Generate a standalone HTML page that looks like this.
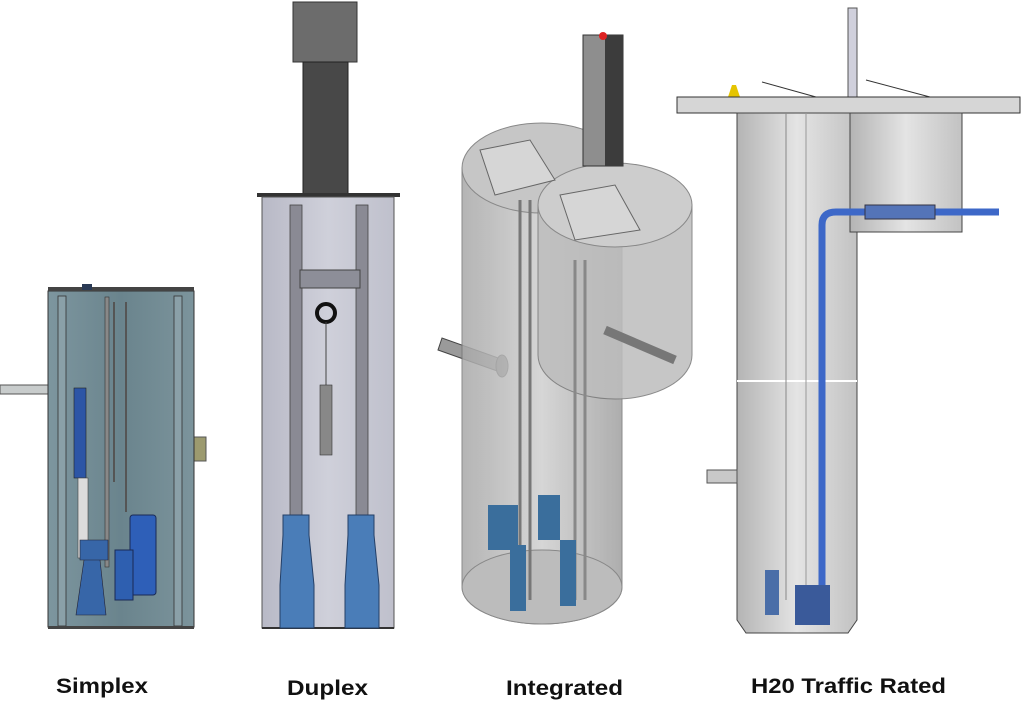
<!DOCTYPE html>
<html><head><meta charset="utf-8"><style>
html,body{margin:0;padding:0;background:#fff;}
svg{display:block}
text{font-family:"Liberation Sans",sans-serif;font-weight:bold;font-size:21px;fill:#111}
</style></head><body>
<svg width="1024" height="702" viewBox="0 0 1024 702" xmlns="http://www.w3.org/2000/svg">
<defs>
<linearGradient id="gs" x1="0" x2="1"><stop offset="0" stop-color="#7d969f"/><stop offset="0.5" stop-color="#6a848d"/><stop offset="1" stop-color="#7c949c"/></linearGradient>
<linearGradient id="gd" x1="0" x2="1"><stop offset="0" stop-color="#b8b9c6"/><stop offset="0.5" stop-color="#cfd0da"/><stop offset="1" stop-color="#bfc0cc"/></linearGradient>
<linearGradient id="gh" x1="0" x2="1"><stop offset="0" stop-color="#b4b4b4"/><stop offset="0.5" stop-color="#e4e4e4"/><stop offset="1" stop-color="#c2c2c2"/></linearGradient>
<linearGradient id="gi" x1="0" x2="1"><stop offset="0" stop-color="#a8a8a8"/><stop offset="0.5" stop-color="#cfcfcf"/><stop offset="1" stop-color="#a0a0a0"/></linearGradient>
</defs>

<!-- SIMPLEX -->
<rect x="0" y="385" width="56" height="9" fill="#c8cccc" stroke="#555" stroke-width="1"/>
<rect x="54" y="380" width="5" height="19" fill="#333"/>
<rect x="182" y="437" width="24" height="24" fill="#9c9a6f" stroke="#555"/>
<rect x="48" y="291" width="146" height="336" fill="url(#gs)" stroke="#333"/>
<rect x="58" y="296" width="8" height="330" fill="#8aa0a8" stroke="#333" stroke-width="0.8"/>
<rect x="174" y="296" width="8" height="330" fill="#8aa0a8" stroke="#333" stroke-width="0.8"/>
<rect x="48" y="287" width="146" height="4" fill="#444"/>
<rect x="48" y="626" width="146" height="3" fill="#444"/>
<rect x="82" y="284" width="10" height="6" fill="#2a3a55"/>
<rect x="105" y="297" width="4" height="270" fill="#888" stroke="#333" stroke-width="0.6"/>
<rect x="113" y="302" width="2" height="180" fill="#555"/>
<rect x="125" y="302" width="2" height="210" fill="#555"/>
<rect x="74" y="388" width="12" height="90" fill="#2c55a6" stroke="#222" stroke-width="0.6"/>
<rect x="78" y="478" width="10" height="80" fill="#dcdcdc" stroke="#444" stroke-width="0.6"/>
<path d="M80 540 h28 v20 h-28z M84 560 l-8 55 h30 l-6 -55z" fill="#3766a8" stroke="#223" stroke-width="0.6"/>
<rect x="130" y="515" width="26" height="80" rx="3" fill="#2e5fb8" stroke="#1a2a55"/>
<rect x="115" y="550" width="18" height="50" fill="#2e5fb0" stroke="#1a2a55"/>

<!-- DUPLEX -->
<rect x="293" y="2" width="64" height="60" fill="#6c6c6c" stroke="#333"/>
<rect x="303" y="62" width="45" height="133" fill="#484848" stroke="#222"/>
<rect x="257" y="193" width="143" height="4" fill="#333"/>
<rect x="262" y="197" width="132" height="431" fill="url(#gd)" stroke="#555"/>
<rect x="262" y="627" width="132" height="2" fill="#333"/>
<rect x="290" y="205" width="12" height="310" fill="#8a8a94" stroke="#444" stroke-width="0.8"/>
<rect x="356" y="205" width="12" height="310" fill="#8a8a94" stroke="#444" stroke-width="0.8"/>
<rect x="300" y="270" width="60" height="18" fill="#8d8e98" stroke="#444"/>
<circle cx="326" cy="313" r="9" fill="none" stroke="#111" stroke-width="4"/>
<line x1="326" y1="322" x2="326" y2="450" stroke="#444"/>
<rect x="320" y="385" width="12" height="70" fill="#888" stroke="#333" stroke-width="0.6"/>
<path d="M283 515 h26 v20 l5 50 v43 h-34 v-43 l3 -50z" fill="#4a7db8" stroke="#243f66"/>
<path d="M348 515 h26 v20 l5 50 v43 h-34 v-43 l3 -50z" fill="#4a7db8" stroke="#243f66"/>

<!-- INTEGRATED -->
<path d="M438 350 L500 372 L504 360 L442 338z" fill="#9a9a9a" stroke="#444"/>
<ellipse cx="502" cy="366" rx="6" ry="11" fill="#777" stroke="#333"/>
<path d="M462 168 V587 A80 37 0 0 0 622 587 V168z" fill="url(#gi)" opacity="0.85" stroke="#777"/>
<ellipse cx="542" cy="587" rx="80" ry="37" fill="#bcbcbc" stroke="#888"/>
<ellipse cx="542" cy="168" rx="80" ry="45" fill="#c6c6c6" stroke="#888"/>
<path d="M538 205 V355 A77 44 0 0 0 692 355 V205z" fill="#bdbdbd" opacity="0.85" stroke="#777"/>
<ellipse cx="615" cy="205" rx="77" ry="42" fill="#cdcdcd" stroke="#888"/>
<path d="M560 195 L615 185 L640 230 L575 240z" fill="#d6d6d6" stroke="#666"/>
<path d="M480 150 L530 140 L555 180 L495 195z" fill="#d6d6d6" stroke="#666"/>
<rect x="583" y="35" width="40" height="131" fill="#8e8e8e" stroke="#333"/>
<rect x="605" y="35" width="18" height="131" fill="#3c3c3c"/>
<circle cx="603" cy="36" r="4" fill="#d22"/>
<path d="M520 200 V600 M530 200 V600" stroke="#777" stroke-width="3"/>
<path d="M575 260 V600 M585 260 V600" stroke="#888" stroke-width="3"/>
<path d="M605 330 L675 360" stroke="#777" stroke-width="9"/>
<path d="M488 505 h30 v45 h-30z M538 495 h22 v45 h-22z" fill="#3a6e9c"/>
<path d="M510 545 h16 v66 h-16z M560 540 h16 v66 h-16z" fill="#3a6e9c"/>

<!-- H20 -->
<rect x="848" y="8" width="9" height="89" fill="#d0d0dc" stroke="#555"/>
<path d="M728 97 l4 -12 h4 l4 12z" fill="#e5c400"/>
<path d="M762 82 L816 97 M866 80 L930 97" stroke="#333"/>
<rect x="677" y="97" width="343" height="16" fill="#d6d6d6" stroke="#333"/>
<path d="M737 113 H857 V620 L848 633 H746 L737 620z" fill="url(#gh)" stroke="#444"/>
<rect x="850" y="113" width="112" height="119" fill="url(#gh)" stroke="#444"/>
<line x1="737" y1="381" x2="857" y2="381" stroke="#fff" stroke-width="2"/>
<rect x="707" y="470" width="30" height="13" fill="#c8c8c8" stroke="#555"/>
<line x1="786" y1="113" x2="786" y2="600" stroke="#888"/>
<line x1="806" y1="113" x2="806" y2="600" stroke="#999"/>
<path d="M822 600 V225 Q822 212 836 212 H999" fill="none" stroke="#3d68c8" stroke-width="7"/>
<rect x="865" y="205" width="70" height="14" fill="#5474b8" stroke="#334"/>
<rect x="795" y="585" width="35" height="40" fill="#3a5a9a"/>
<rect x="765" y="570" width="14" height="45" fill="#4a6ea8"/>

<text x="56" y="693" textLength="92" lengthAdjust="spacingAndGlyphs">Simplex</text>
<text x="287" y="695" textLength="81" lengthAdjust="spacingAndGlyphs">Duplex</text>
<text x="506" y="695" textLength="117" lengthAdjust="spacingAndGlyphs">Integrated</text>
<text x="751" y="693" textLength="195" lengthAdjust="spacingAndGlyphs">H20 Traffic Rated</text>
</svg>
</body></html>
